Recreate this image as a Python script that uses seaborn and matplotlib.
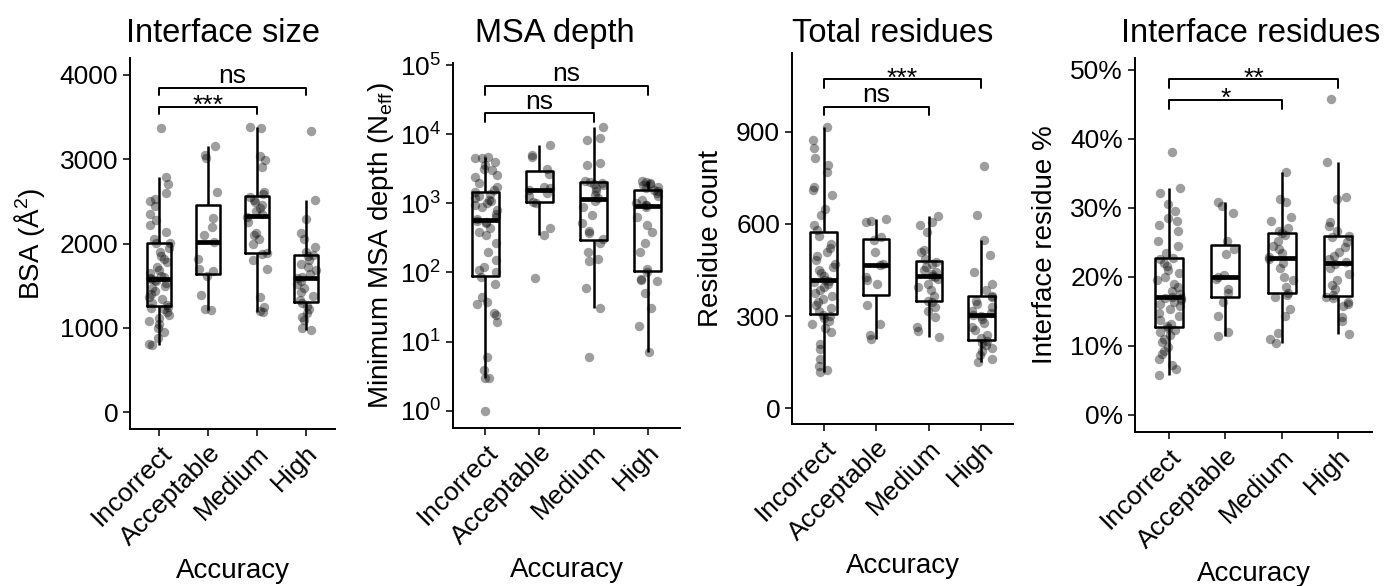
import numpy as np
import pandas as pd
import matplotlib
matplotlib.use("Agg")
import matplotlib.pyplot as plt
import seaborn as sns
from matplotlib.ticker import NullLocator, FuncFormatter

accuracy_levels = ["Incorrect", "Acceptable", "Medium", "High"]

# buried surface area (A^2)
bsa_incorrect = [796, 810, 880, 950, 1000, 1040, 1080, 1120, 1150, 1190,
                 1220, 1240, 1250, 1270, 1300, 1340, 1370, 1400, 1440, 1470,
                 1500, 1530, 1550, 1570, 1575, 1585, 1600, 1620, 1650, 1680,
                 1720, 1780, 1820, 1850, 1900, 1950, 2005, 2010, 2050, 2139,
                 2218, 2277, 2344, 2447, 2507, 2523, 2600, 2700, 2784, 3366]
bsa_acceptable = [1216, 1228, 1386, 1620, 1668, 1703, 1822, 2020, 2099, 2198,
                  2305, 2605, 3010, 3050, 3160]
bsa_medium = [1188, 1195, 1248, 1366, 1703, 1802, 1880, 1892, 1990, 2050,
              2099, 2119, 2250, 2310, 2348, 2390, 2420, 2460, 2495, 2520,
              2554, 2590, 2614, 2911, 2990, 3038, 3366, 3378]
bsa_high = [978, 1002, 1089, 1130, 1180, 1220, 1260, 1300, 1330, 1380,
            1420, 1470, 1520, 1560, 1585, 1600, 1640, 1680, 1720, 1760,
            1800, 1850, 1865, 1901, 1960, 2048, 2127, 2285, 2515, 3339]

# minimum MSA depth (Neff)
neff_incorrect = [1.0, 2.95, 3.0, 3.9, 6.0, 19.5, 24, 25.7, 35.5, 38,
                  44.7, 69, 87, 100, 107, 120, 151, 200, 263, 347,
                  389, 447, 513, 537, 562, 589, 631, 708, 794, 891,
                  933, 1000, 1072, 1122, 1202, 1259, 1380, 1462, 1585, 1738,
                  1995, 2399, 2570, 3020, 3162, 3548, 3981, 4467, 4571, 4677]
neff_acceptable = [83, 347, 437, 1000, 1062, 1259, 1413, 1585, 1660, 1738,
                   2692, 3162, 4677, 5012, 6918]
neff_medium = [6.0, 30.2, 58.9, 144.5, 158.5, 199.5, 263, 305.5, 371.5, 398,
               513, 676, 891, 1096, 1202, 1318, 1514, 1660, 1820, 1905,
               1995, 2042, 2138, 3548, 3802, 8318, 8913, 12882]
neff_high = [7.1, 16.6, 30.2, 50.1, 74.1, 77.6, 81.3, 102.3, 112.2, 199.5,
             263, 389, 479, 631, 891, 933, 955, 1000, 1122, 1259,
             1413, 1514, 1585, 1660, 1738, 1820, 1905, 1995, 2042, 2138]

# total residue count
res_incorrect = [117, 125, 139, 161, 193, 210, 248, 260, 275, 285,
                 295, 300, 305, 317, 325, 335, 345, 355, 365, 375,
                 385, 395, 405, 410, 414, 418, 430, 440, 449, 460,
                 470, 482, 495, 509, 520, 536, 560, 579, 596, 628,
                 650, 693, 710, 721, 770, 790, 813, 846, 873, 914]
res_acceptable = [226, 237, 275, 335, 405, 416, 427, 465, 471, 509,
                  547, 557, 607, 610, 617]
res_medium = [232, 253, 264, 297, 318, 330, 345, 350, 367, 384,
              395, 405, 420, 426, 432, 436, 445, 449, 460, 471,
              476, 485, 509, 514, 574, 595, 607, 626]
res_high = [150, 160, 175, 185, 195, 205, 212, 218, 230, 240,
            255, 265, 278, 290, 300, 304, 310, 318, 330, 340,
            350, 362, 366, 384, 405, 443, 498, 547, 628, 788]

# interface residue percentage
pct_incorrect = [5.75, 6.6, 7.2, 8.1, 8.8, 9.3, 9.8, 10.5, 11.0, 11.5,
                 12.0, 12.3, 12.6, 12.8, 13.2, 13.8, 14.3, 14.8, 15.3, 15.7,
                 16.0, 16.4, 16.7, 16.9, 16.95, 17.05, 17.5, 18.0, 18.5, 19.0,
                 19.5, 20.0, 20.5, 21.0, 21.6, 22.0, 22.5, 22.7, 23.5, 24.5,
                 25.2, 26.7, 27.5, 28.1, 28.5, 29.5, 30.5, 32.2, 32.8, 38.1]
pct_acceptable = [11.35, 12.0, 14.3, 16.3, 17.7, 18.2, 19.7, 20.0, 20.3, 23.3,
                  24.0, 25.2, 29.2, 30.3, 30.9]
pct_medium = [10.4, 11.0, 11.9, 14.3, 15.3, 17.0, 17.4, 17.7, 18.5, 19.5,
              20.0, 21.2, 22.0, 22.5, 22.9, 23.5, 24.0, 24.5, 25.2, 26.0,
              26.3, 26.7, 27.0, 28.1, 28.6, 30.9, 31.3, 35.2]
pct_high = [11.7, 13.6, 14.1, 15.8, 16.0, 16.3, 16.9, 17.1, 17.3, 18.2,
            18.8, 19.6, 20.4, 21.2, 21.9, 22.1, 22.5, 23.0, 23.6, 24.3,
            25.0, 25.8, 25.95, 26.7, 27.3, 27.9, 31.3, 31.5, 36.7, 45.7]


def long_df(groups):
    rows = []
    for level, vals in zip(accuracy_levels, groups):
        rows += [(level, v) for v in vals]
    return pd.DataFrame(rows, columns=["accuracy", "value"])


sns.set_theme(style="ticks")
plt.rcParams["font.family"] = ["Liberation Sans", "DejaVu Sans"]
plt.rcParams["mathtext.default"] = "regular"
plt.rcParams["axes.linewidth"] = 1.4
for key in ["text.color", "axes.labelcolor", "axes.edgecolor", "xtick.color", "ytick.color"]:
    plt.rcParams[key] = "black"

fig = plt.figure(figsize=(13.87, 5.86), dpi=100)
W, H = 1387, 586

# panel boxes in pixels: left, right, top, bottom
panels = [
    dict(box=(130, 335, 58, 429), groups=[bsa_incorrect, bsa_acceptable, bsa_medium, bsa_high],
         title="Interface size", title_x=223, ylabel="BSA (Å$^2$)", log=False,
         ylim=(-200, 4200), yticks=[0, 1000, 2000, 3000, 4000], pad=9,
         brackets=[(0, 3, 0.919, "ns"), (0, 2, 0.869, "***")], tip=0.019),
    dict(box=(453, 680, 63, 428), groups=[neff_incorrect, neff_acceptable, neff_medium, neff_high],
         title="MSA depth", title_x=555, ylabel="Minimum MSA depth (N$_{eff}$)", log=True,
         ylim=(10 ** -0.25, 10 ** 5.03), yticks=[1, 10, 100, 1000, 10000, 100000], pad=3,
         brackets=[(0, 3, 0.937, "ns"), (0, 2, 0.862, "ns")], tip=0.024),
    dict(box=(792, 1013, 53, 424), groups=[res_incorrect, res_acceptable, res_medium, res_high],
         title="Total residues", title_x=893, ylabel="Residue count", log=False,
         ylim=(-51, 1156), yticks=[0, 300, 600, 900], pad=9,
         brackets=[(0, 3, 0.929, "***"), (0, 2, 0.854, "ns")], tip=0.022),
    dict(box=(1135, 1372, 58, 432), groups=[pct_incorrect, pct_acceptable, pct_medium, pct_high],
         title="Interface residues", title_x=1251, ylabel="Interface residue %", log=False,
         ylim=(-2.5, 51.7), yticks=[0, 10, 20, 30, 40, 50], pad=9,
         brackets=[(0, 3, 0.943, "**"), (0, 2, 0.888, "*")], tip=0.024),
]

np.random.seed(11)
for p in panels:
    l, r, t, b = p["box"]
    ax = fig.add_axes([l / W, 1 - b / H, (r - l) / W, (b - t) / H])
    df = long_df(p["groups"])
    log = True if p["log"] else None
    sns.boxplot(data=df, x="accuracy", y="value", order=accuracy_levels, ax=ax,
                fill=False, color="black", linecolor="black", width=0.5,
                linewidth=1.8, showfliers=False, showcaps=False,
                medianprops={"linewidth": 3.4}, log_scale=log)
    sns.stripplot(data=df, x="accuracy", y="value", order=accuracy_levels, ax=ax,
                  color="black", alpha=0.38, size=6.8, jitter=0.22, linewidth=0,
                  zorder=3, log_scale=log)
    ax.set_xlim(-0.6, 3.6)
    ax.set_ylim(*p["ylim"])
    ax.set_yticks(p["yticks"])
    if p["log"]:
        ax.yaxis.set_minor_locator(NullLocator())
    if p["title"] == "Interface residues":
        ax.yaxis.set_major_formatter(FuncFormatter(lambda v, pos: f"{v:.0f}%"))
    ax.set_xticks(range(len(accuracy_levels)))
    ax.set_xticklabels(accuracy_levels, rotation=45, ha="right", va="top",
                       rotation_mode="anchor")
    ax.tick_params(axis="both", labelsize=19, width=1.4, length=5, color="#333333",
                   labelcolor="black")
    ax.set_xlabel("Accuracy", fontsize=20, labelpad=6)
    ax.set_ylabel(p["ylabel"], fontsize=20, labelpad=p["pad"])
    sns.despine(ax=ax)

    trans = ax.get_xaxis_transform()
    for x0, x1, yb, label in p["brackets"]:
        ax.plot([x0, x0, x1, x1], [yb - p["tip"], yb, yb, yb - p["tip"]],
                color="black", lw=1.4, transform=trans, clip_on=False)
        off = 3.5 if label == "ns" else -4.5
        ax.annotate(label, xy=((x0 + x1) / 2, yb), xycoords=trans,
                    xytext=(0, off), textcoords="offset points",
                    ha="center", va="baseline", fontsize=19)

    fig.text(p["title_x"] / W, 1 - 42 / H, p["title"], ha="center", va="baseline",
             fontsize=23.5)

fig.savefig("out.png", dpi=100)
